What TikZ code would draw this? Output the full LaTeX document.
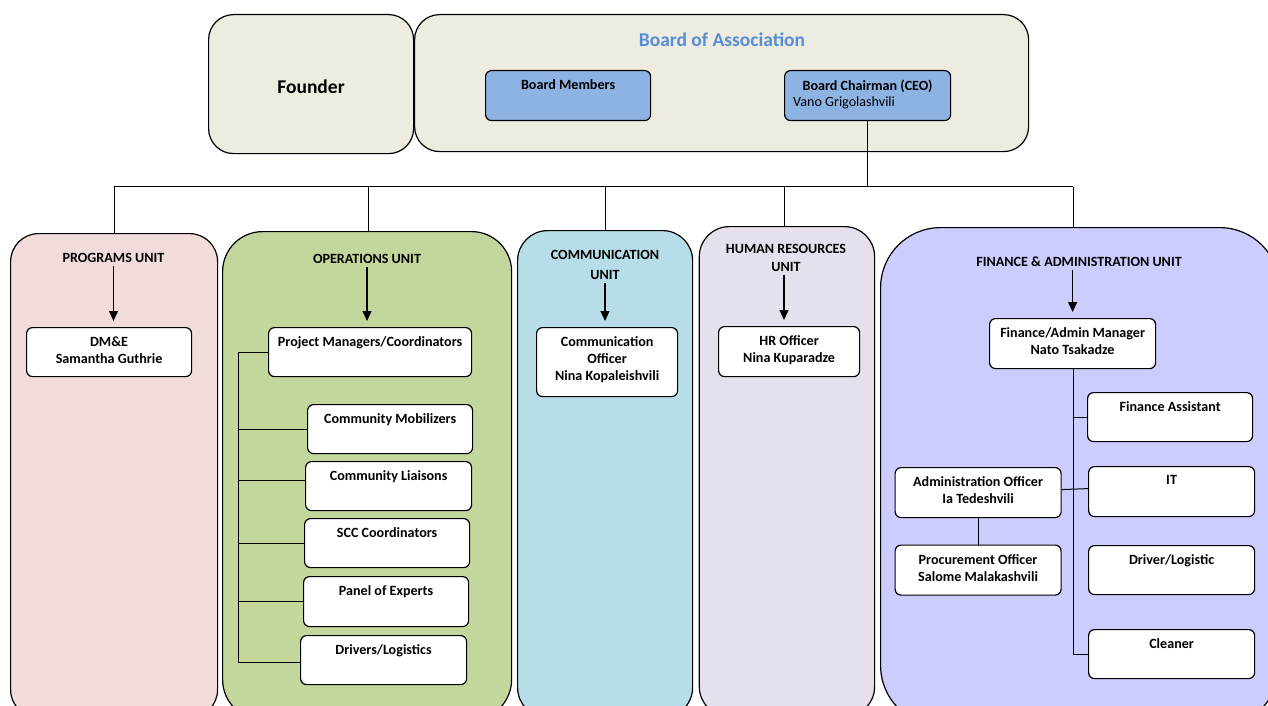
\documentclass[tikz,border=0pt]{standalone}
\usepackage{fontspec}
\setmainfont{Carlito}
\usetikzlibrary{arrows.meta}
\definecolor{beige}{HTML}{EEEBE0}
\definecolor{bblue}{HTML}{8DB3E2}
\definecolor{titleblue}{HTML}{558ED5}
\definecolor{progc}{HTML}{F2DCDB}
\definecolor{opsc}{HTML}{C3D69B}
\definecolor{commc}{HTML}{B7DEE8}
\definecolor{hrc}{HTML}{E5E0EC}
\definecolor{finc}{HTML}{CCCCFF}
\begin{document}
\begin{tikzpicture}[x=1pt,y=-1pt,
  unitbox/.style={draw, line width=1.2pt, anchor=north west, inner sep=0},
  wbox/.style={draw, fill=white, rounded corners=6, line width=1.2pt, anchor=north west, inner sep=0},
  bluebox/.style={wbox, fill=bblue},
  ttl/.style={anchor=north, inner sep=0, yshift=-9.5pt, align=center, font=\fontsize{14.1}{17}\selectfont\bfseries},
  utitle/.style={inner sep=3pt, align=center, font=\fontsize{14.1}{17}\selectfont\bfseries},
  conn/.style={line width=1pt},
  arr/.style={line width=1.3pt, -{Triangle[width=9pt,length=10pt]}, shorten >=6pt}
]
\useasboundingbox (0,0) rectangle (1268,706);
\clip (0,0) rectangle (1268,706);
\fill[white] (0,0) rectangle (1268,706);

% top level
\node[unitbox, fill=beige, rounded corners=25, minimum width=205, minimum height=139] (founder) at (208,14) {};
\node[font=\fontsize{19.5}{22}\selectfont\bfseries] (founderT) at (311,87) {Founder};
\node[unitbox, fill=beige, rounded corners=25, minimum width=614, minimum height=137] (board) at (414,14) {};
\node[font=\fontsize{19.5}{22}\selectfont\bfseries, text=titleblue] (boardT) at (722,40) {Board of Association};
\node[bluebox, minimum width=165, minimum height=50] (bm) at (485,70) {};
\node[ttl] (bmT) at (bm.north) {Board Members};
\node[bluebox, minimum width=166, minimum height=50] (chair) at (784,70) {};
\node[ttl] (chairT) at (chair.north) {Board Chairman (CEO)};
\node[anchor=west, inner sep=0, font=\fontsize{14.1}{17}\selectfont] (chairN) at (793,103) {Vano Grigolashvili};

% units
\node[unitbox, fill=progc, rounded corners=28, minimum width=207, minimum height=484] (prog) at (10,233) {};
\node[unitbox, fill=opsc, rounded corners=40, minimum width=289, minimum height=488] (ops) at (222,231) {};
\node[unitbox, fill=commc, rounded corners=30, minimum width=175, minimum height=487] (comm) at (517,230) {};
\node[unitbox, fill=hrc, rounded corners=30, minimum width=175.3, minimum height=490] (hr) at (698.7,226) {};
\node[unitbox, fill=finc, rounded corners=60, minimum width=399, minimum height=498] (fin) at (880,227) {};

% bus
\coordinate (bus) at (0,186.7);
\coordinate (d1) at (114,186.7);
\coordinate (d2) at (368.5,186.7);
\coordinate (d3) at (605.5,186.7);
\coordinate (d4) at (784.5,186.7);
\coordinate (d5) at (1073,186.7);
\draw[conn] (chair.south) -- (chair.south |- bus);
\draw[conn] (d1) -- (d5);
\draw[conn] (d1) -- (d1 |- prog.north);
\draw[conn] (d2) -- (d2 |- ops.north);
\draw[conn] (d3) -- (d3 |- comm.north);
\draw[conn] (d4) -- (d4 |- hr.north);
\draw[conn] (d5) -- (d5 |- fin.north);

% unit titles
\node[utitle] (progT) at (113.5,258) {PROGRAMS UNIT};
\node[utitle] (opsT) at (367,259) {OPERATIONS UNIT};
\node[utitle, font=\fontsize{14.1}{20}\selectfont\bfseries] (commT) at (605,265) {COMMUNICATION\\UNIT};
\node[utitle, font=\fontsize{14.1}{17.4}\selectfont\bfseries] (hrT) at (786,258) {HUMAN RESOURCES\\UNIT};
\node[utitle] (finT) at (1079,261.5) {FINANCE \& ADMINISTRATION UNIT};

% programs
\node[wbox, minimum width=165, minimum height=49] (dme) at (26,327) {};
\node[ttl] (dmeT) at (dme.north) {DM\&E\\Samantha Guthrie};
\draw[arr] (progT.south) -- (progT.south |- dme.north);

% operations
\node[wbox, minimum width=203, minimum height=49] (pm) at (268,327) {};
\node[ttl] (pmT) at (pm.north) {Project Managers/Coordinators};
\node[wbox, minimum width=165, minimum height=49] (cm) at (307,404) {};
\node[ttl] (cmT) at (cm.north) {Community Mobilizers};
\node[wbox, minimum width=166, minimum height=49] (cl) at (305,461) {};
\node[ttl] (clT) at (cl.north) {Community Liaisons};
\node[wbox, minimum width=165, minimum height=49] (scc) at (304,518) {};
\node[ttl] (sccT) at (scc.north) {SCC Coordinators};
\node[wbox, minimum width=165, minimum height=50] (poe) at (303,576) {};
\node[ttl] (poeT) at (poe.north) {Panel of Experts};
\node[wbox, minimum width=166, minimum height=49] (dl) at (300,635) {};
\node[ttl] (dlT) at (dl.north) {Drivers/Logistics};
\draw[arr] (opsT.south) -- (opsT.south |- pm.north);
\coordinate (obar) at (238.3,0);
\draw[conn] (pm.west) -- (pm.west -| obar) -- ([yshift=-2pt]dl.west -| obar) -- ([yshift=-2pt]dl.west);
\draw[conn] (cm.west) -- (cm.west -| obar);
\draw[conn] ([yshift=6pt]cl.west) -- ([yshift=6pt]cl.west -| obar);
\draw[conn] (scc.west) -- (scc.west -| obar);
\draw[conn] (poe.west) -- (poe.west -| obar);

% communication
\node[wbox, minimum width=141, minimum height=69] (co) at (536,327) {};
\node[ttl] (coT) at (co.north) {Communication\\Officer\\Nina Kopaleishvili};
\draw[arr] (commT.south) -- (commT.south |- co.north);

% human resources
\node[wbox, minimum width=141, minimum height=50] (hro) at (718,326) {};
\node[ttl] (hroT) at (hro.north) {HR Officer\\Nina Kuparadze};
\draw[arr] ([xshift=-2pt]hrT.south) -- ([xshift=-2pt]hrT.south |- hro.north);

% finance
\node[wbox, minimum width=166, minimum height=50] (mgr) at (989,318) {};
\node[ttl] (mgrT) at (mgr.north) {Finance/Admin Manager\\Nato Tsakadze};
\node[wbox, minimum width=165, minimum height=49] (fa) at (1087,392) {};
\node[ttl] (faT) at (fa.north) {Finance Assistant};
\node[wbox, minimum width=166, minimum height=50] (it) at (1088,466) {};
\node[ttl] (itT) at (it.north) {IT};
\node[wbox, minimum width=166, minimum height=49] (drl) at (1088,545) {};
\node[ttl] (drlT) at (drl.north) {Driver/Logistic};
\node[wbox, minimum width=166, minimum height=49] (cln) at (1088,629) {};
\node[ttl] (clnT) at (cln.north) {Cleaner};
\node[wbox, minimum width=166, minimum height=50] (adm) at (894.5,467) {};
\node[ttl] (admT) at (adm.north) {Administration Officer\\Ia Tedeshvili};
\node[wbox, minimum width=166, minimum height=50] (proc) at (894.5,544.5) {};
\node[ttl] (procT) at (proc.north) {Procurement Officer\\Salome Malakashvili};
\draw[arr] (mgr.north |- finT.south) -- (mgr.north);
\coordinate (fbar) at (1073.3,0);
\draw[conn] (mgr.south -| fbar) -- (cln.west -| fbar) -- (cln.west);
\draw[conn] (fa.west) -- (fa.west -| fbar);
\draw[conn] ([yshift=3pt]adm.east) -- ([yshift=3pt]it.west);
\draw[conn] (adm.south) -- (proc.north);
\end{tikzpicture}
\end{document}
